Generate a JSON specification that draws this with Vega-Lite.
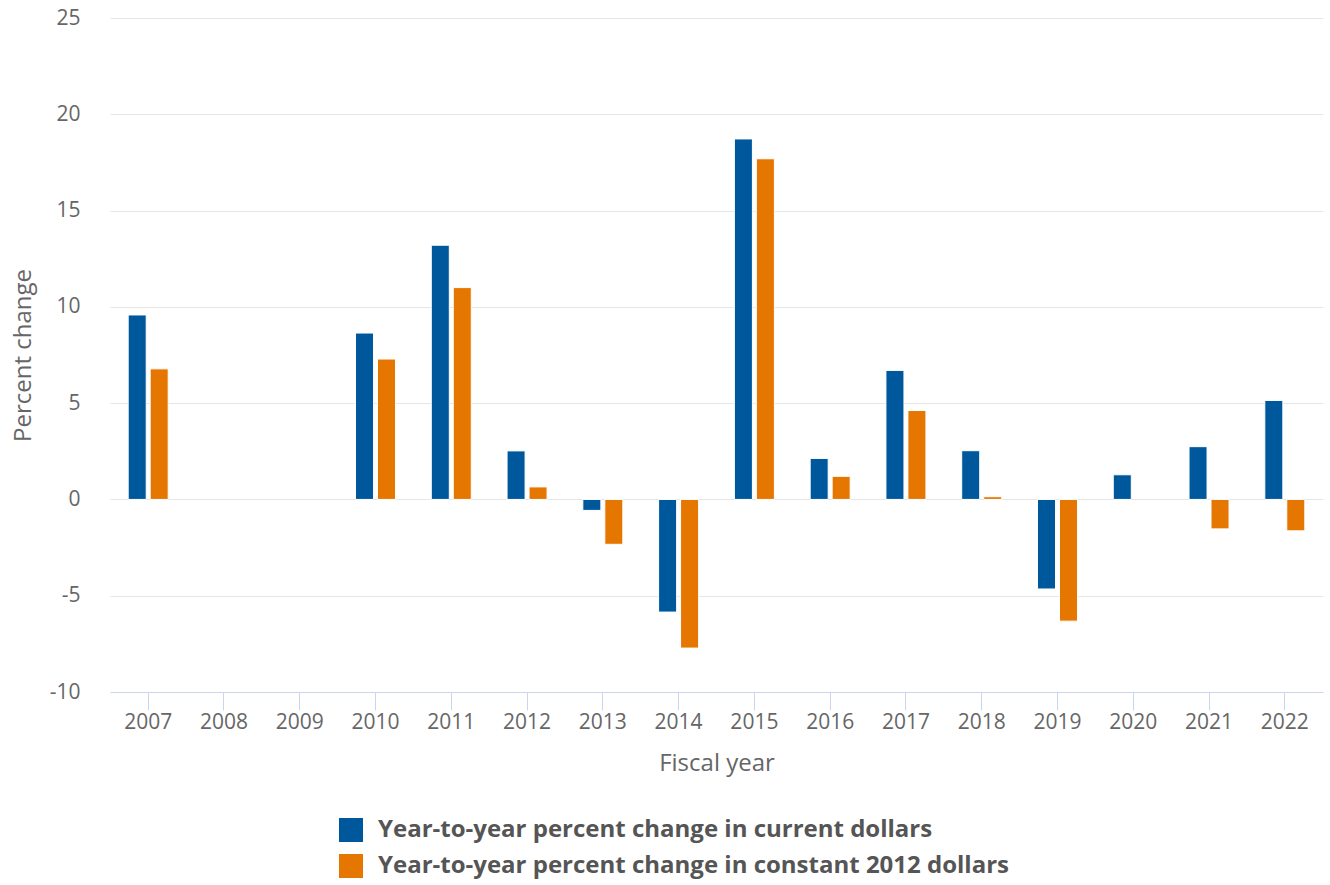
{
  "$schema": "https://vega.github.io/schema/vega-lite/v6.json",
  "autosize": {"type": "none"},
  "width": 1213,
  "height": 674,
  "padding": {"left": 110, "top": 18, "right": 7, "bottom": 193},
  "background": "white",
  "config": {
    "font": "Open Sans",
    "view": {"stroke": null},
    "axis": {"labelColor": "#666666", "titleColor": "#666666", "titleFontWeight": "normal", "labelFont": "Open Sans", "titleFont": "Open Sans"}
  },
  "data": {
    "values": [
      {"year": "2007", "series": "Year-to-year percent change in current dollars", "value": 9.58},
      {"year": "2007", "series": "Year-to-year percent change in constant 2012 dollars", "value": 6.78},
      {"year": "2010", "series": "Year-to-year percent change in current dollars", "value": 8.64},
      {"year": "2010", "series": "Year-to-year percent change in constant 2012 dollars", "value": 7.29},
      {"year": "2011", "series": "Year-to-year percent change in current dollars", "value": 13.2},
      {"year": "2011", "series": "Year-to-year percent change in constant 2012 dollars", "value": 11.0},
      {"year": "2012", "series": "Year-to-year percent change in current dollars", "value": 2.52},
      {"year": "2012", "series": "Year-to-year percent change in constant 2012 dollars", "value": 0.65},
      {"year": "2013", "series": "Year-to-year percent change in current dollars", "value": -0.57},
      {"year": "2013", "series": "Year-to-year percent change in constant 2012 dollars", "value": -2.33},
      {"year": "2014", "series": "Year-to-year percent change in current dollars", "value": -5.85},
      {"year": "2014", "series": "Year-to-year percent change in constant 2012 dollars", "value": -7.72},
      {"year": "2015", "series": "Year-to-year percent change in current dollars", "value": 18.72},
      {"year": "2015", "series": "Year-to-year percent change in constant 2012 dollars", "value": 17.69},
      {"year": "2016", "series": "Year-to-year percent change in current dollars", "value": 2.13},
      {"year": "2016", "series": "Year-to-year percent change in constant 2012 dollars", "value": 1.2},
      {"year": "2017", "series": "Year-to-year percent change in current dollars", "value": 6.7},
      {"year": "2017", "series": "Year-to-year percent change in constant 2012 dollars", "value": 4.62},
      {"year": "2018", "series": "Year-to-year percent change in current dollars", "value": 2.53},
      {"year": "2018", "series": "Year-to-year percent change in constant 2012 dollars", "value": 0.14},
      {"year": "2019", "series": "Year-to-year percent change in current dollars", "value": -4.65},
      {"year": "2019", "series": "Year-to-year percent change in constant 2012 dollars", "value": -6.32},
      {"year": "2020", "series": "Year-to-year percent change in current dollars", "value": 1.28},
      {"year": "2021", "series": "Year-to-year percent change in current dollars", "value": 2.74},
      {"year": "2021", "series": "Year-to-year percent change in constant 2012 dollars", "value": -1.53},
      {"year": "2022", "series": "Year-to-year percent change in current dollars", "value": 5.14},
      {"year": "2022", "series": "Year-to-year percent change in constant 2012 dollars", "value": -1.63}
    ]
  },
  "mark": {"type": "bar", "stroke": "white", "strokeWidth": 1},
  "encoding": {
    "x": {
      "field": "year",
      "type": "nominal",
      "scale": {"domain": ["2007","2008","2009","2010","2011","2012","2013","2014","2015","2016","2017","2018","2019","2020","2021","2022"], "paddingInner": 0.472, "paddingOuter": 0.24},
      "axis": {
        "title": "Fiscal year",
        "labelAngle": 0,
        "labelFontSize": 21,
        "titleFontSize": 24,
        "domainColor": "#ccd6eb",
        "tickColor": "#ccd6eb",
        "tickSize": 18,
        "labelPadding": 1,
        "titlePadding": 19
      }
    },
    "xOffset": {
      "field": "series",
      "type": "nominal",
      "sort": ["Year-to-year percent change in current dollars", "Year-to-year percent change in constant 2012 dollars"],
      "scale": {"paddingInner": 0.18, "paddingOuter": 0}
    },
    "y": {
      "field": "value",
      "type": "quantitative",
      "scale": {"domain": [-10, 25], "nice": false, "zero": false},
      "axis": {
        "title": "Percent change",
        "values": [-10, -5, 0, 5, 10, 15, 20, 25],
        "labelExpr": "'' + datum.value",
        "labelFontSize": 21,
        "titleFontSize": 24,
        "domain": false,
        "ticks": false,
        "labelPadding": 30,
        "gridColor": "#e6e6e6",
        "titlePadding": 14
      }
    },
    "color": {
      "field": "series",
      "type": "nominal",
      "sort": ["Year-to-year percent change in current dollars", "Year-to-year percent change in constant 2012 dollars"],
      "scale": {"domain": ["Year-to-year percent change in current dollars", "Year-to-year percent change in constant 2012 dollars"], "range": ["#00589c", "#e57600"]},
      "legend": {
        "title": null,
        "orient": "none",
        "legendX": 229,
        "legendY": 800,
        "direction": "vertical",
        "symbolType": "square",
        "symbolSize": 576,
        "symbolStrokeWidth": 0,
        "labelFontSize": 24,
        "labelFontWeight": "bold",
        "labelColor": "#555555",
        "labelLimit": 1000,
        "labelOffset": 15,
        "rowPadding": 12
      }
    }
  }
}
